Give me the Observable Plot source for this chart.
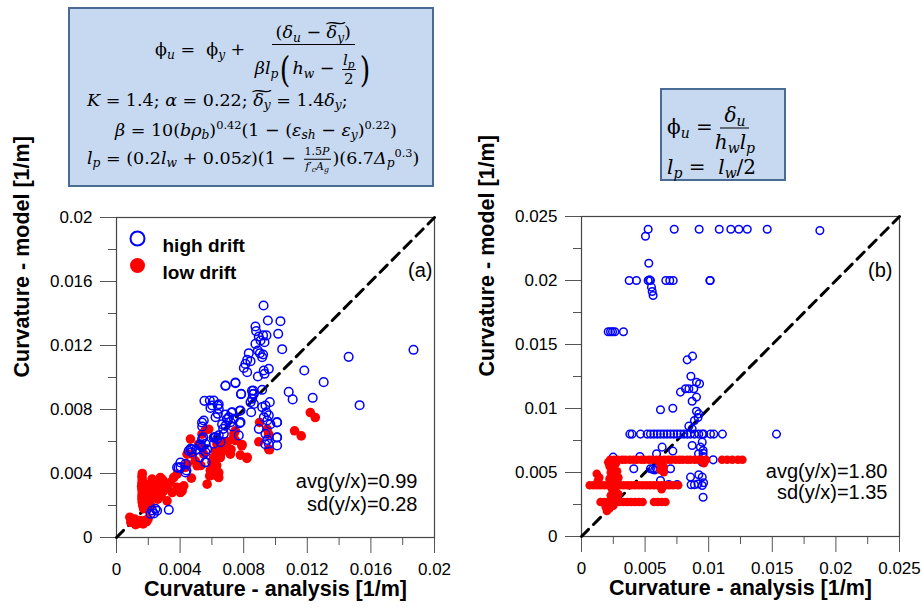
<!DOCTYPE html>
<html><head><meta charset="utf-8">
<script src="https://cdn.jsdelivr.net/npm/d3@7"></script>
<script src="https://cdn.jsdelivr.net/npm/@observablehq/plot@0.6"></script>
<style>
body{margin:0;background:#fff;}
#root{position:relative;width:923px;height:609px;overflow:hidden;font-family:"Liberation Sans",Arial,sans-serif;}
.panel{position:absolute;top:190px;}
.panel svg{overflow:visible;}
.eqbox{position:absolute;box-sizing:border-box;background:#c6d9f1;border:2px solid #4a6b93;font-family:"DejaVu Serif",serif;font-size:17.5px;color:#000;}
.row{position:absolute;transform:translateY(-50%);white-space:nowrap;line-height:1.2;}
.row i{font-style:italic;}
.row sub{font-size:0.7em;vertical-align:-0.3em;line-height:0;}
.row sup{font-size:0.65em;vertical-align:0.55em;line-height:0;}
.frac{display:inline-flex;flex-direction:column;align-items:center;vertical-align:middle;margin:0 2px;}
.frac > span{display:block;text-align:center;}
.f1 > .n{box-sizing:border-box;height:48px;padding:24px 4px 0;line-height:22px;border-bottom:1.5px solid #000;}
.f1 > .d{box-sizing:border-box;height:48px;padding:3px 2px 0;line-height:40px;}
.sm{font-size:15px;line-height:1.15;}
.sm > .n{border-bottom:1.2px solid #000;padding:0 1px;line-height:1.2;}
.sm > .d{line-height:1.2;}
.xs{font-size:11px;}
.xs > .n{border-bottom:1px solid #000;padding:0 1px;line-height:1.25;}
.xs > .d{line-height:1.25;}
.f2 > .n{border-bottom:1.5px solid #000;padding:0 4px 1px;line-height:1.2;}
.f2 > .d{line-height:1.2;padding-top:1px;}
.big{font-size:36px;line-height:1;display:inline-block;transform:scaleX(0.75);vertical-align:middle;}
.tl{position:relative;display:inline-block;line-height:1;}
.tw{position:absolute;left:0;right:0;top:-0.55em;text-align:center;transform:scaleX(1.7);font-style:normal;}
.up{font-style:normal;}
.b2{font-size:20px;}
</style>
</head>
<body>
<div id="root">
  <div class="eqbox" style="left:68px;top:7px;width:366px;height:180px">
    <div class="row" style="left:85px;top:36px"><span style="position:relative;top:5px"><span class="up">ϕ</span><sub><i>u</i></sub> = &nbsp;<span class="up">ϕ</span><sub><i>y</i></sub> + </span><span class="frac f1"><span class="n">(<i>δ</i><sub><i>u</i></sub>&nbsp;−&nbsp;<span class="tl"><span class="tw">~</span><i>δ</i><sub><i>y</i></sub></span>)</span><span class="d"><i>βl</i><sub><i>p</i></sub><span class="big">(</span><i>h</i><sub><i>w</i></sub>&nbsp;−&nbsp;<span class="frac sm"><span class="n"><i>l</i><sub><i>p</i></sub></span><span class="d">2</span></span><span class="big">)</span></span></span></div>
    <div class="row" style="left:17px;top:91px"><i>K</i>&nbsp;=&nbsp;1.4;&nbsp;<i>α</i>&nbsp;=&nbsp;0.22;&nbsp;<span class="tl"><span class="tw">~</span><i>δ</i><sub><i>y</i></sub></span>&nbsp;=&nbsp;1.4<i>δ</i><sub><i>y</i></sub>;</div>
    <div class="row" style="left:45px;top:121px"><i>β</i>&nbsp;=&nbsp;10(<i>bρ</i><sub><i>b</i></sub>)<sup>0.42</sup>(1&nbsp;−&nbsp;(<i>ε</i><sub><i>sh</i></sub>&nbsp;−&nbsp;<i>ε</i><sub><i>y</i></sub>)<sup>0.22</sup>)</div>
    <div class="row" style="left:17px;top:150px"><i>l</i><sub><i>p</i></sub>&nbsp;=&nbsp;(0.2<i>l</i><sub><i>w</i></sub>&nbsp;+&nbsp;0.05<i>z</i>)(1&nbsp;−&nbsp;<span class="frac xs"><span class="n">1.5<i>P</i></span><span class="d"><i>f</i>′<sub><i>c</i></sub><i>A</i><sub><i>g</i></sub></span></span>)(6.7<i>Δ</i><sub><i>p</i></sub><sup>0.3</sup>)</div>
  </div>
  <div class="eqbox b2" style="left:660px;top:88px;width:126px;height:93px">
    <div class="row" style="left:5px;top:38px"><span class="up">ϕ</span><sub><i>u</i></sub>&nbsp;=<span class="frac f2"><span class="n"><i>δ</i><sub><i>u</i></sub></span><span class="d"><i>h</i><sub><i>w</i></sub><i>l</i><sub><i>p</i></sub></span></span></div>
    <div class="row" style="left:5px;top:77px"><i>l</i><sub><i>p</i></sub>&nbsp;=&nbsp;&nbsp;<i>l</i><sub><i>w</i></sub>/2</div>
  </div>
  <div id="pa" class="panel" style="left:0px"></div>
  <div id="pb" class="panel" style="left:460px"></div>
</div>
<script>
// ---- data (curvature in 1/m) ----
const ticksA = [0, 0.004, 0.008, 0.012, 0.016, 0.02];
const minorA = [0.002, 0.006, 0.01, 0.014, 0.018];
const labelsA = ["0", "0.004", "0.008", "0.012", "0.016", "0.02"];
const ticksB = [0, 0.005, 0.01, 0.015, 0.02, 0.025];
const minorB = [0.0025, 0.0075, 0.0125, 0.0175, 0.0225];
const labelsB = ["0", "0.005", "0.01", "0.015", "0.02", "0.025"];
const seriesNames = ["high drift", "low drift"];
const xTitle = "Curvature - analysis [1/m]";
const yTitle = "Curvature - model [1/m]";
const statsA = ["avg(y/x)=0.99", "sd(y/x)=0.28"];
const statsB = ["avg(y/x)=1.80", "sd(y/x)=1.35"];

const highA = [[0.01868,0.01173],[0.0146,0.01129],[0.01529,0.00827],[0.01303,0.00971],[0.01234,0.00873],[0.01181,0.01044],[0.01083,0.0091],[0.01108,0.00863],[0.00925,0.0145],[0.00952,0.01356],[0.01031,0.01352],[0.00874,0.01319],[0.00878,0.0129],[0.01017,0.01273],[0.00895,0.01256],[0.00922,0.01263],[0.00943,0.01263],[0.00906,0.01231],[0.00931,0.0122],[0.00874,0.0121],[0.01042,0.01177],[0.00889,0.01169],[0.00902,0.01152],[0.00922,0.01144],[0.00832,0.01152],[0.00916,0.01127],[0.00822,0.0111],[0.00843,0.01102],[0.00811,0.01085],[0.00801,0.0106],[0.00822,0.01033],[0.00926,0.01044],[0.00958,0.01054],[0.00889,0.01006],[0.00931,0.01023],[0.00748,0.00969],[0.00686,0.0095],[0.00916,0.00923],[0.0086,0.00919],[0.00864,0.00898],[0.00784,0.00898],[0.00853,0.00867],[0.00843,0.00846],[0.00864,0.00835],[0.00937,0.00825],[0.00964,0.00846],[0.00916,0.00815],[0.00847,0.00783],[0.00943,0.00783],[0.00958,0.00763],[0.00927,0.00752],[0.00948,0.00731],[0.0101,0.00721],[0.0101,0.00627],[0.0101,0.00575],[0.00937,0.00648],[0.00948,0.0061],[0.00958,0.00586],[0.00895,0.00679],[0.00587,0.00856],[0.00612,0.00856],[0.00602,0.00825],[0.00637,0.00825],[0.00591,0.0081],[0.00643,0.00804],[0.00623,0.00752],[0.00637,0.00773],[0.00686,0.00769],[0.00728,0.00783],[0.00707,0.00752],[0.00738,0.00742],[0.0078,0.00794],[0.0078,0.00721],[0.00717,0.00721],[0.00686,0.007],[0.00671,0.00679],[0.00728,0.00694],[0.00675,0.00648],[0.00623,0.00627],[0.00643,0.00638],[0.00769,0.00638],[0.00654,0.00596],[0.00612,0.00586],[0.00549,0.00731],[0.00539,0.00694],[0.0056,0.00586],[0.0056,0.00533],[0.0056,0.00471],[0.00465,0.00554],[0.00539,0.00565],[0.00403,0.0044],[0.00434,0.0046],[0.00224,0.00169],[0.00245,0.00179],[0.00329,0.00173],[0.00214,0.00148],[0.00472,0.00533],[0.00524,0.00575],[0.00545,0.00627],[0.00618,0.00627],[0.0044,0.00419],[0.0039,0.00435],[0.005,0.0055],[0.00852,0.00917],[0.00857,0.00896],[0.00968,0.00708],[0.01009,0.00719],[0.01009,0.00625],[0.00936,0.00583],[0.00553,0.00854],[0.00643,0.00833],[0.00538,0.00719],[0.00685,0.00948],[0.00748,0.00965],[0.00783,0.00896],[0.00775,0.00792],[0.00775,0.00715],[0.00723,0.00781],[0.00695,0.0074],[0.00664,0.00708],[0.00632,0.00615],[0.00611,0.00625],[0.0057,0.00552],[0.00538,0.00615],[0.00381,0.00438],[0.00402,0.00469],[0.00454,0.00542],[0.00475,0.00552],[0.00524,0.005],[0.00559,0.00469],[0.00434,0.00406],[0.00255,0.00167],[0.00235,0.0015],[0.00528,0.00583]];

const lowA = [[0.00084,0.00127],[0.00105,0.00096],[0.00147,0.00106],[0.00178,0.00106],[0.00199,0.00117],[0.00126,0.00085],[0.00094,0.0011],[0.00168,0.00085],[0.00115,0.00115],[0.00136,0.0009],[0.0009,0.00095],[0.0012,0.0008],[0.0016,0.00095],[0.0019,0.001],[0.00162,0.004],[0.0016,0.0038],[0.00162,0.0036],[0.0016,0.0034],[0.00158,0.0032],[0.0016,0.003],[0.00162,0.0028],[0.0016,0.0026],[0.0016,0.0024],[0.00162,0.0022],[0.00165,0.002],[0.0017,0.0018],[0.00185,0.0022],[0.0019,0.0026],[0.002,0.003],[0.00195,0.0033],[0.00205,0.0023],[0.00193,0.00177],[0.00215,0.002],[0.00224,0.00365],[0.00224,0.00313],[0.0023,0.0028],[0.00235,0.0034],[0.0022,0.0025],[0.00276,0.00375],[0.00287,0.00333],[0.00255,0.00271],[0.0027,0.0031],[0.0029,0.0036],[0.0026,0.0024],[0.0028,0.0026],[0.003,0.0032],[0.00295,0.0029],[0.00265,0.0035],[0.00318,0.00313],[0.00339,0.00344],[0.0036,0.00375],[0.00381,0.00396],[0.00318,0.00229],[0.0035,0.00281],[0.00381,0.00313],[0.00413,0.00292],[0.00402,0.00281],[0.00423,0.00323],[0.00434,0.00438],[0.00444,0.00458],[0.00465,0.00615],[0.00444,0.00521],[0.00475,0.00521],[0.00496,0.00479],[0.00507,0.00448],[0.00471,0.00371],[0.00517,0.00583],[0.00538,0.00646],[0.00559,0.00671],[0.0058,0.00677],[0.00549,0.00521],[0.0057,0.00333],[0.00586,0.00385],[0.00611,0.00438],[0.00611,0.005],[0.00622,0.00542],[0.00632,0.00583],[0.00643,0.00406],[0.00643,0.00375],[0.00653,0.005],[0.00664,0.00563],[0.00695,0.00563],[0.00716,0.00521],[0.00737,0.00625],[0.00747,0.00667],[0.00788,0.00573],[0.00779,0.00515],[0.0082,0.00494],[0.009,0.00719],[0.00895,0.00598],[0.00947,0.00677],[0.00957,0.00646],[0.00957,0.00552],[0.0112,0.00667],[0.01162,0.00635],[0.01219,0.00781],[0.0125,0.0075],[0.00738,0.00648],[0.00748,0.00606],[0.00962,0.00548],[0.0079,0.00581],[0.00822,0.00502],[0.0068,0.0059],[0.006,0.0047],[0.0063,0.0045],[0.0062,0.0039],[0.0059,0.0042],[0.0053,0.0045],[0.007,0.006],[0.0072,0.0055],[0.0066,0.0053]];

const highB = [[0.00524,0.024],[0.00729,0.024],[0.00925,0.024],[0.01083,0.024],[0.01174,0.024],[0.01237,0.024],[0.01303,0.024],[0.0146,0.024],[0.01874,0.0239],[0.00503,0.02346],[0.00529,0.02135],[0.00375,0.02],[0.00432,0.02],[0.00524,0.02],[0.00542,0.02],[0.00535,0.02005],[0.00663,0.02],[0.00694,0.02],[0.00721,0.02],[0.01009,0.02],[0.01012,0.02],[0.0055,0.01948],[0.00556,0.01914],[0.00563,0.01883],[0.0021,0.016],[0.00228,0.016],[0.00244,0.016],[0.00262,0.016],[0.0033,0.016],[0.00873,0.01409],[0.00831,0.0138],[0.0086,0.01252],[0.00904,0.01205],[0.00928,0.01193],[0.00778,0.01128],[0.00818,0.01154],[0.00844,0.01154],[0.00883,0.01154],[0.00904,0.01089],[0.0087,0.01057],[0.00621,0.0099],[0.00718,0.01002],[0.00904,0.00979],[0.00922,0.00958],[0.00888,0.00906],[0.00916,0.0093],[0.00844,0.00862],[0.0087,0.00841],[0.0038,0.008],[0.00398,0.008],[0.00464,0.008],[0.00516,0.008],[0.00542,0.008],[0.00569,0.008],[0.00595,0.008],[0.00621,0.008],[0.00647,0.008],[0.00673,0.008],[0.007,0.008],[0.00726,0.008],[0.00752,0.008],[0.00778,0.008],[0.00805,0.008],[0.00831,0.008],[0.00857,0.008],[0.00888,0.008],[0.00922,0.008],[0.00949,0.008],[0.00961,0.008],[0.01014,0.008],[0.0104,0.008],[0.01108,0.008],[0.01533,0.008],[0.0087,0.00711],[0.00949,0.00737],[0.00956,0.00672],[0.00634,0.00698],[0.00718,0.00667],[0.00956,0.0065],[0.00956,0.00624],[0.00949,0.0058],[0.01035,0.00599],[0.0059,0.00646],[0.00249,0.0062],[0.00459,0.00625],[0.00411,0.00529],[0.00542,0.00529],[0.0056,0.00525],[0.00575,0.0052],[0.0059,0.0053],[0.007,0.00529],[0.00621,0.00438],[0.00857,0.00464],[0.00922,0.00482],[0.00949,0.00464],[0.00862,0.00404],[0.00888,0.00404],[0.00916,0.0041],[0.00949,0.00398],[0.0096,0.0042],[0.00956,0.00307],[0.00686,0.00406],[0.00752,0.00406],[0.00935,0.00698],[0.0092,0.00646]];

const lowB = [[0.00225,0.006],[0.0026,0.006],[0.00285,0.006],[0.0032,0.006],[0.00345,0.006],[0.0038,0.006],[0.0041,0.006],[0.00435,0.006],[0.0047,0.006],[0.00495,0.006],[0.0053,0.006],[0.00555,0.006],[0.0059,0.006],[0.00615,0.006],[0.0065,0.006],[0.0068,0.006],[0.00705,0.006],[0.0074,0.006],[0.0077,0.006],[0.00795,0.006],[0.0083,0.006],[0.00855,0.006],[0.0089,0.006],[0.0092,0.006],[0.00945,0.006],[0.0098,0.006],[0.01105,0.006],[0.01145,0.006],[0.01185,0.006],[0.0123,0.006],[0.01265,0.006],[0.00065,0.004],[0.00095,0.004],[0.00125,0.004],[0.0015,0.004],[0.0018,0.004],[0.0021,0.004],[0.0024,0.004],[0.0027,0.004],[0.003,0.004],[0.0033,0.004],[0.0036,0.004],[0.0039,0.004],[0.0042,0.004],[0.0045,0.004],[0.0048,0.004],[0.0051,0.004],[0.0054,0.004],[0.0057,0.004],[0.006,0.004],[0.0063,0.004],[0.0066,0.004],[0.0069,0.004],[0.0072,0.004],[0.0076,0.004],[0.0015,0.0027],[0.0018,0.0027],[0.0021,0.0027],[0.0024,0.0027],[0.0027,0.0027],[0.003,0.0027],[0.0033,0.0027],[0.0036,0.0027],[0.0039,0.0027],[0.0042,0.0027],[0.0045,0.0027],[0.0048,0.0027],[0.0057,0.0027],[0.006,0.0027],[0.0063,0.0027],[0.0066,0.0027],[0.0022,0.0055],[0.0025,0.0053],[0.0028,0.0051],[0.0023,0.005],[0.0026,0.0048],[0.0029,0.0046],[0.0022,0.0045],[0.0025,0.0043],[0.0028,0.0044],[0.0024,0.0037],[0.0027,0.0035],[0.0029,0.0033],[0.0023,0.0032],[0.0026,0.003],[0.0022,0.0022],[0.0025,0.0024],[0.002,0.002],[0.0019,0.0023],[0.0012,0.0049],[0.0014,0.0046],[0.0013,0.0044],[0.0021,0.0058],[0.0027,0.0057],[0.0062,0.0057],[0.00625,0.00545],[0.0062,0.0052],[0.00647,0.00542],[0.00647,0.00503],[0.00962,0.00573],[0.0063,0.0037]];

function makePanel(o) {
  const fmt = new Map(o.ticks.map((t, i) => [t, o.labels[i]]));
  const dom = [o.ticks[0], o.ticks[o.ticks.length - 1]];
  const blue = Plot.dot(o.high, {x: d => d[0], y: d => d[1], r: o.blueR, stroke: "#0000ff", strokeWidth: 1.5, fill: "none"});
  const red = Plot.dot(o.low, {x: d => d[0], y: d => d[1], r: o.redR, fill: "#ff0000", stroke: "none"});
  const marks = [
    Plot.axisX(o.minor, {tickSize: 8, tickFormat: () => "", stroke: "#555", label: null}),
    Plot.axisX(o.ticks, {tickSize: 16, tickPadding: 9, tickFormat: d => fmt.get(d), stroke: "#555", fontSize: 17, label: null}),
    Plot.axisY(o.minor, {tickSize: 8, tickFormat: () => "", stroke: "#555", label: null}),
    Plot.axisY(o.ticks, {tickSize: 16, tickPadding: 8, tickFormat: d => fmt.get(d), stroke: "#555", fontSize: 17, label: null}),
    Plot.frame({stroke: "#444", strokeWidth: 1.2}),
    Plot.line(dom, {x: d => d, y: d => d, stroke: "#000", strokeWidth: 3, strokeDasharray: "10,7"}),
    ...(o.redOnTop ? [blue, red] : [red, blue]),
    Plot.text([o.tag], {frameAnchor: "top-right", dx: o.tagDx, dy: o.tagDy, textAnchor: "end", fontSize: 20}),
    Plot.text([o.stats[0]], {frameAnchor: "bottom-right", dx: o.statDx, dy: o.statDy1, textAnchor: "end", fontSize: 20}),
    Plot.text([o.stats[1]], {frameAnchor: "bottom-right", dx: o.statDx, dy: o.statDy2, textAnchor: "end", fontSize: 20}),
    Plot.text([xTitle], {frameAnchor: "bottom", dy: 58, fontWeight: "bold", fontSize: 21.5}),
    Plot.text([yTitle], {frameAnchor: "left", dx: -94, rotate: -90, fontWeight: "bold", fontSize: 21.5})
  ];
  if (o.legend) {
    marks.push(
      Plot.dot([seriesNames[0]], {frameAnchor: "top-left", dx: 21, dy: 21, r: 7, stroke: "#0000ff", strokeWidth: 2, fill: "none"}),
      Plot.dot([seriesNames[1]], {frameAnchor: "top-left", dx: 21, dy: 48, r: 7.5, fill: "#ff0000"}),
      Plot.text([seriesNames[0]], {frameAnchor: "top-left", dx: 46, dy: 21, textAnchor: "start", fontWeight: "bold", fontSize: 19}),
      Plot.text([seriesNames[1]], {frameAnchor: "top-left", dx: 46, dy: 48, textAnchor: "start", fontWeight: "bold", fontSize: 19})
    );
  }
  return Plot.plot({
    width: o.width, height: o.height,
    marginLeft: o.mL, marginRight: o.mR, marginTop: o.mT, marginBottom: o.mB,
    x: {domain: dom, label: null},
    y: {domain: dom, label: null},
    style: {fontFamily: "'Liberation Sans', Arial, sans-serif", fontSize: "17px", color: "#000", background: "transparent", overflow: "visible"},
    marks
  });
}

document.getElementById("pa").append(makePanel({
  width: 460, height: 419, mL: 116, mR: 26, mT: 27, mB: 72,
  ticks: ticksA, minor: minorA, labels: labelsA, high: highA, low: lowA,
  tag: "(a)", tagDx: -2, tagDy: 45, stats: statsA, statDx: -17, statDy1: -50, statDy2: -27,
  legend: true, blueR: 4.3, redR: 4.8, redOnTop: false
}));
document.getElementById("pb").append(makePanel({
  width: 463, height: 419, mL: 121, mR: 24, mT: 26, mB: 73,
  ticks: ticksB, minor: minorB, labels: labelsB, high: highB, low: lowB,
  tag: "(b)", tagDx: -7, tagDy: 46, stats: statsB, statDx: -12, statDy1: -59, statDy2: -38,
  legend: false, blueR: 3.8, redR: 4.3, redOnTop: true
}));
</script>
</body></html>
